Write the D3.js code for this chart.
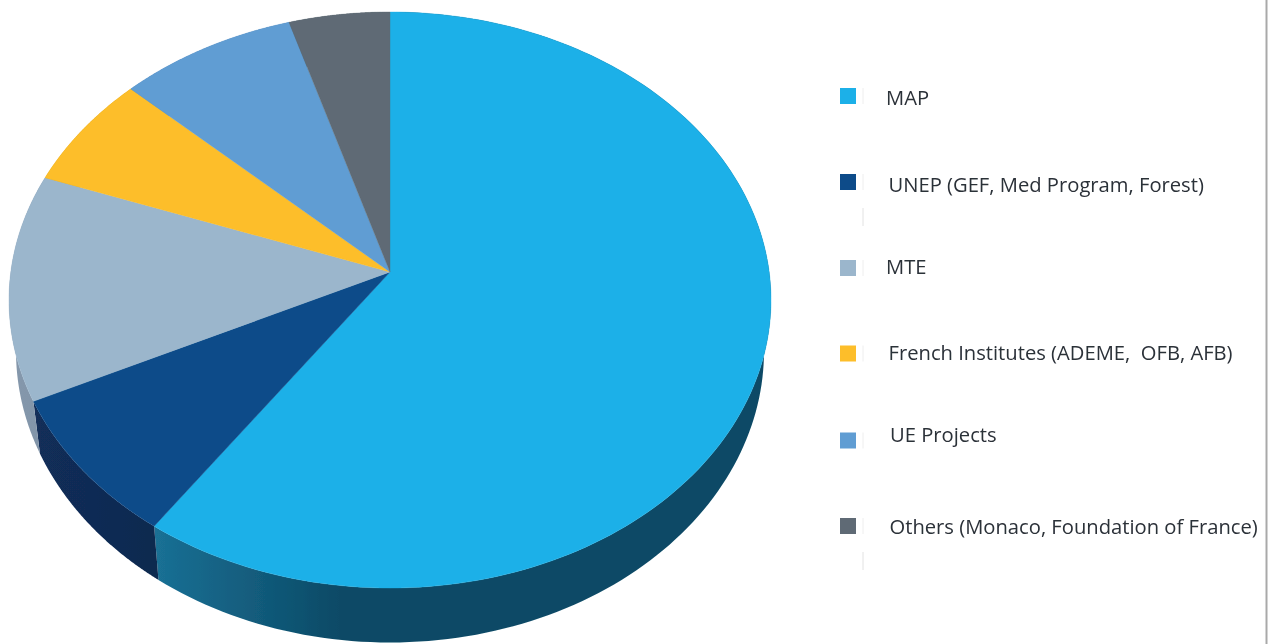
<!DOCTYPE html>
<html>
<head>
<meta charset="utf-8">
<script src="https://cdnjs.cloudflare.com/ajax/libs/d3/7.8.5/d3.min.js"></script>
<style>
html,body{margin:0;padding:0;background:#fff;overflow:hidden}
svg{display:block}
text{font-family:"Open Sans",sans-serif;font-size:20.2px;fill:#2b3038}
</style>
</head>
<body>
<svg id="chart" width="1274" height="644"></svg>
<script>
const categories = ["MAP","UNEP (GEF, Med Program, Forest)","MTE","French Institutes (ADEME,  OFB, AFB)","UE Projects","Others (Monaco, Foundation of France)"];
const values = [59.7, 8.15, 12.7, 6.45, 8.3, 4.7];
const topColors = ["#1db0e8","#0a4b89","#9bb6cc","#fdbe29","#609dd3","#5e6b75"];
const wallStart = ["#1a7095","#122e5a","#8497ab","#c99a20","#4c7ca8","#4a555e"];
const wallEnd = ["#0b4a66","#10294f","#74889c","#c99a20","#4c7ca8","#4a555e"];
const legendY = [96, 182, 268, 353.5, 440.5, 526];
const labelX = [886, 888.5, 886, 888.5, 890, 889.5];
const labelY = [105, 192, 274, 360, 441.5, 534];
const faintTickY = [[208,226],[552,570]];

const W = 1274, H = 644;
const top3d = {cx:390, cy:300, rx:381, ry:288};
const bottom3d = {cx:390, cy:351, rx:374, ry:291.5};
const apexShift = 28/288;          // perspective: centre of the disc sits above the ellipse centre
const k = Math.sqrt(1-apexShift*apexShift);

// projective map of the unit disc on itself, then on to an ellipse
const project = (e, a, r=1) => {
  const x = r*Math.sin(a), y = -r*Math.cos(a);
  const d = 1 - apexShift*y;
  return [e.cx + e.rx*x*k/d, e.cy + e.ry*(y-apexShift)/d];
};
const arcPts = (e, a0, a1) => d3.range(0, 161).map(i => project(e, a0+(a1-a0)*i/160));

const svg = d3.select("#chart");
const defs = svg.append("defs");
const blur = defs.append("filter").attr("id","soft").attr("x","-5%").attr("y","-5%").attr("width","110%").attr("height","110%");
blur.append("feGaussianBlur").attr("stdDeviation",0.55);

const pie = d3.pie().sort(null).value(d=>d)(values);
const line = d3.line();
const xScale = d3.scaleLinear().domain([155,340]).range([0,100]);

pie.forEach((s,i)=>{
  const g = defs.append("linearGradient").attr("id","wall"+i)
    .attr("gradientUnits","userSpaceOnUse")
    .attr("x1", i===0?xScale.invert(0):20).attr("x2", i===0?xScale.invert(100):160).attr("y1",0).attr("y2",0);
  g.append("stop").attr("offset","0%").attr("stop-color",wallStart[i]);
  g.append("stop").attr("offset","100%").attr("stop-color",wallEnd[i]);
});

const chart = svg.append("g").attr("filter","url(#soft)");

// side walls
chart.selectAll("path.wall").data(pie).join("path").attr("class","wall")
  .attr("fill",(d,i)=>`url(#wall${i})`)
  .attr("d",d=>line(arcPts(top3d,d.startAngle,d.endAngle).concat(arcPts(bottom3d,d.startAngle,d.endAngle).reverse()))+"Z");

// top faces
chart.selectAll("path.top").data(pie).join("path").attr("class","top")
  .attr("fill",(d,i)=>topColors[i])
  .attr("stroke",(d,i)=>topColors[i]).attr("stroke-width",0.4)
  .attr("d",d=>line([project(top3d,0,0)].concat(arcPts(top3d,d.startAngle,d.endAngle)))+"Z");

// page rule on the right
svg.append("line").attr("x1",1266.5).attr("x2",1266.5).attr("y1",0).attr("y2",H)
  .attr("stroke","#a9a9a9").attr("stroke-width",2);

// legend
const legend = svg.append("g").attr("filter","url(#soft)");
legend.selectAll("rect").data(categories).join("rect")
  .attr("x",840).attr("y",(d,i)=>legendY[i]-8).attr("width",16).attr("height",16)
  .attr("fill",(d,i)=>topColors[i]);
legend.selectAll("line.side").data(categories).join("line").attr("class","side")
  .attr("x1",863).attr("x2",863)
  .attr("y1",(d,i)=>legendY[i]-8).attr("y2",(d,i)=>legendY[i]+8)
  .attr("stroke","#eeeeee").attr("stroke-width",1);
legend.selectAll("line.faint").data(faintTickY).join("line").attr("class","faint")
  .attr("x1",863).attr("x2",863)
  .attr("y1",d=>d[0]).attr("y2",d=>d[1])
  .attr("stroke","#e2e2e2").attr("stroke-width",1);
svg.append("g").attr("filter","url(#soft)").selectAll("text").data(categories).join("text")
  .attr("x",(d,i)=>labelX[i]).attr("y",(d,i)=>labelY[i])
  .attr("xml:space","preserve").style("white-space","pre")
  .text(d=>d);
</script>
</body>
</html>
